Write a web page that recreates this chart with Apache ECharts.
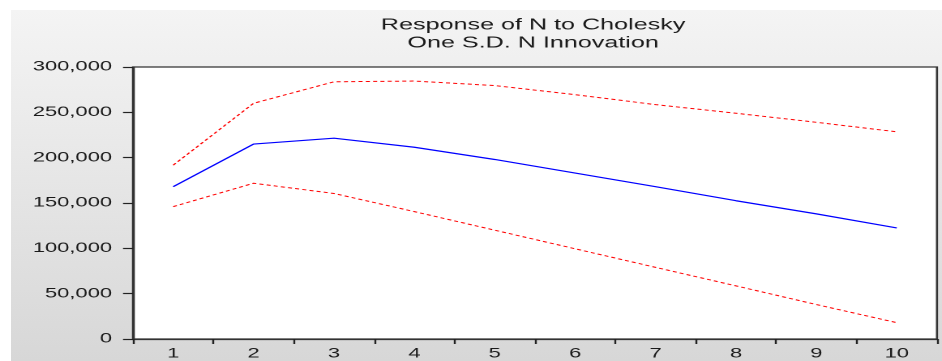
<!DOCTYPE html>
<html><head><meta charset="utf-8">
<script src="https://cdn.jsdelivr.net/npm/echarts@6/dist/echarts.min.js"></script>
<style>
html,body{margin:0;padding:0;background:#fff;overflow:hidden;width:942px;height:361px;}
#bg{position:absolute;left:11px;top:10px;right:0;bottom:0;background:linear-gradient(#f4f4f4,#d7d7d7);}
#chart{position:absolute;left:0;top:0;width:581px;height:361px;transform:scaleX(1.6213);transform-origin:0 0;}
</style></head><body>
<div id="bg"></div><div id="chart"></div>
<script>
const periods = ['1','2','3','4','5','6','7','8','9','10'];
const response = [168000, 215000, 221500, 211500, 198000, 183000, 168000, 152500, 138000, 122500];
const upperBand = [191700, 260000, 283700, 284500, 279500, 269500, 258500, 249000, 239000, 228500];
const lowerBand = [146000, 171800, 160500, 140500, 120000, 99500, 79000, 58600, 38000, 18000];
const titleLines = ['Response of N to Cholesky', 'One S.D. N Innovation'];
const yTicks = [0, 50000, 100000, 150000, 200000, 250000, 300000];

const S = 1.6213;
const chart = echarts.init(document.getElementById('chart'), null, {renderer:'canvas', devicePixelRatio: 2});
const font = '"Liberation Sans", Arial, sans-serif';
chart.setOption({
  backgroundColor: 'transparent',
  animation: false,
  title: {
    text: titleLines.join('\n'),
    left: 525 / S, textAlign: 'center', top: 11,
    textStyle: {fontFamily: font, fontSize: 15.5, fontWeight: 'normal', color: '#1a1a1a', lineHeight: 18}
  },
  grid: {left: 133 / S, right: 5 / S, top: 67, bottom: 22, show: true, backgroundColor: '#fff', borderColor: '#333', borderWidth: 1.3},
  xAxis: {
    type: 'category', data: periods, boundaryGap: true,
    axisLine: {show: true, lineStyle: {color: '#333', width: 1.3}},
    axisTick: {show: true, length: 5, lineStyle: {color: '#222', width: 1.2}},
    axisLabel: {margin: 8, fontFamily: font, fontSize: 13.5, color: '#1a1a1a'},
    splitLine: {show: false}
  },
  yAxis: {
    type: 'value', min: yTicks[0], max: yTicks[yTicks.length - 1], interval: yTicks[1] - yTicks[0],
    axisLine: {show: true, lineStyle: {color: '#333', width: 1.3}},
    axisTick: {show: true, length: 10 / S, lineStyle: {color: '#222', width: 1.2}},
    axisLabel: {margin: 21 / S, fontFamily: font, fontSize: 13.5, color: '#1a1a1a',
      formatter: v => v.toLocaleString('en-US')},
    splitLine: {show: false}
  },
  series: [
    {type: 'line', data: upperBand, symbol: 'none', lineStyle: {color: '#ff0000', width: 1, type: [2.5, 2]}},
    {type: 'line', data: response, symbol: 'none', lineStyle: {color: '#0000ff', width: 1.2}},
    {type: 'line', data: lowerBand, symbol: 'none', lineStyle: {color: '#ff0000', width: 1, type: [2.5, 2]}}
  ]
});
</script>
</body></html>
